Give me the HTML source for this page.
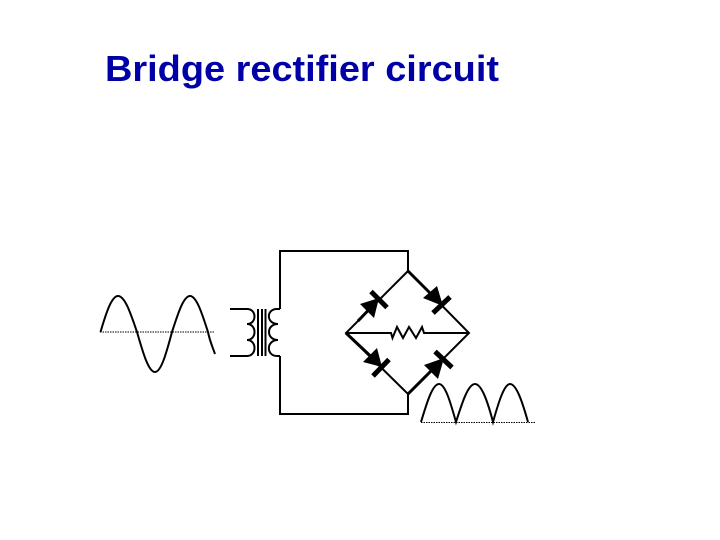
<!DOCTYPE html>
<html><head><meta charset="utf-8"><style>html,body{margin:0;padding:0;background:#fff}svg{display:block}</style></head>
<body>
<svg width="720" height="540" viewBox="0 0 720 540" xmlns="http://www.w3.org/2000/svg">
<rect width="720" height="540" fill="#fff"/>
<text x="105" y="81" font-family="'Liberation Sans',sans-serif" font-weight="bold" font-size="36" fill="#0000a6" textLength="394" lengthAdjust="spacingAndGlyphs">Bridge rectifier circuit</text>
<g fill="none" stroke="#000" stroke-width="2">
<path d="M280 309V251H408V271M280 356V414H408V394"/>
<path d="M408 271L346 333L408 394L469 333Z"/>
<path d="M346 333H391L392.500 338L397 327L403 338L409 327L416 338L422 327L424 333H469"/>
<path d="M230 309H247C257 309 257 324 247 324C257 324 257 340 247 340C257 340 257 356 247 356H230"/>
<path d="M280 309H277C266 309 266 324 278 324C266 324 266 340 278 340C266 340 266 356 277 356H280"/>
<path d="M258 309V356M262 309V356M265.500 309V356"/>
<path d="M100.500 332C105.900 313.600 111.500 296 118 296C124.900 296 130.800 313.600 137 332C142.900 352.500 148.500 372 155 372C161.200 372 166.500 352.500 172 332C177.900 313.600 183.500 296 190 296C196.500 296 202.100 313.600 208 332C210 342 213 348 215 354"/>
<path d="M421 422C426.900 402.500 432.500 384 439 384C445.200 384 450.500 402.500 456 422C462.200 402.500 468.100 384 475 384C481.700 384 487.900 402.500 493 422C498.500 402.500 504.200 384 510 384C516.500 384 522.500 402.500 528 422"/>
</g>
<path d="M100 332H215M421 422.500H535" fill="none" stroke="#000" stroke-width="1" stroke-dasharray="1.500 1"/>
<g stroke="#000" stroke-width="3" fill="none">
<path d="M358 321L379 299M408 394L443 359M408 271L443 306M346 333L382 367"/>
</g>
<g stroke="#000" stroke-width="5" fill="none">
<path d="M371 291.500L387 307.500M433 313L450 297M373 376L389 359.500M435 351.500L452 367.500"/>
</g>
<g fill="#000">
<path d="M379 298L360 304L374 318Z"/>
<path d="M443 306L423 298L437 286Z"/>
<path d="M382 367L363 362L377 348Z"/>
<path d="M444 358L424 365L438 379Z"/>
</g>
</svg>
</body></html>
